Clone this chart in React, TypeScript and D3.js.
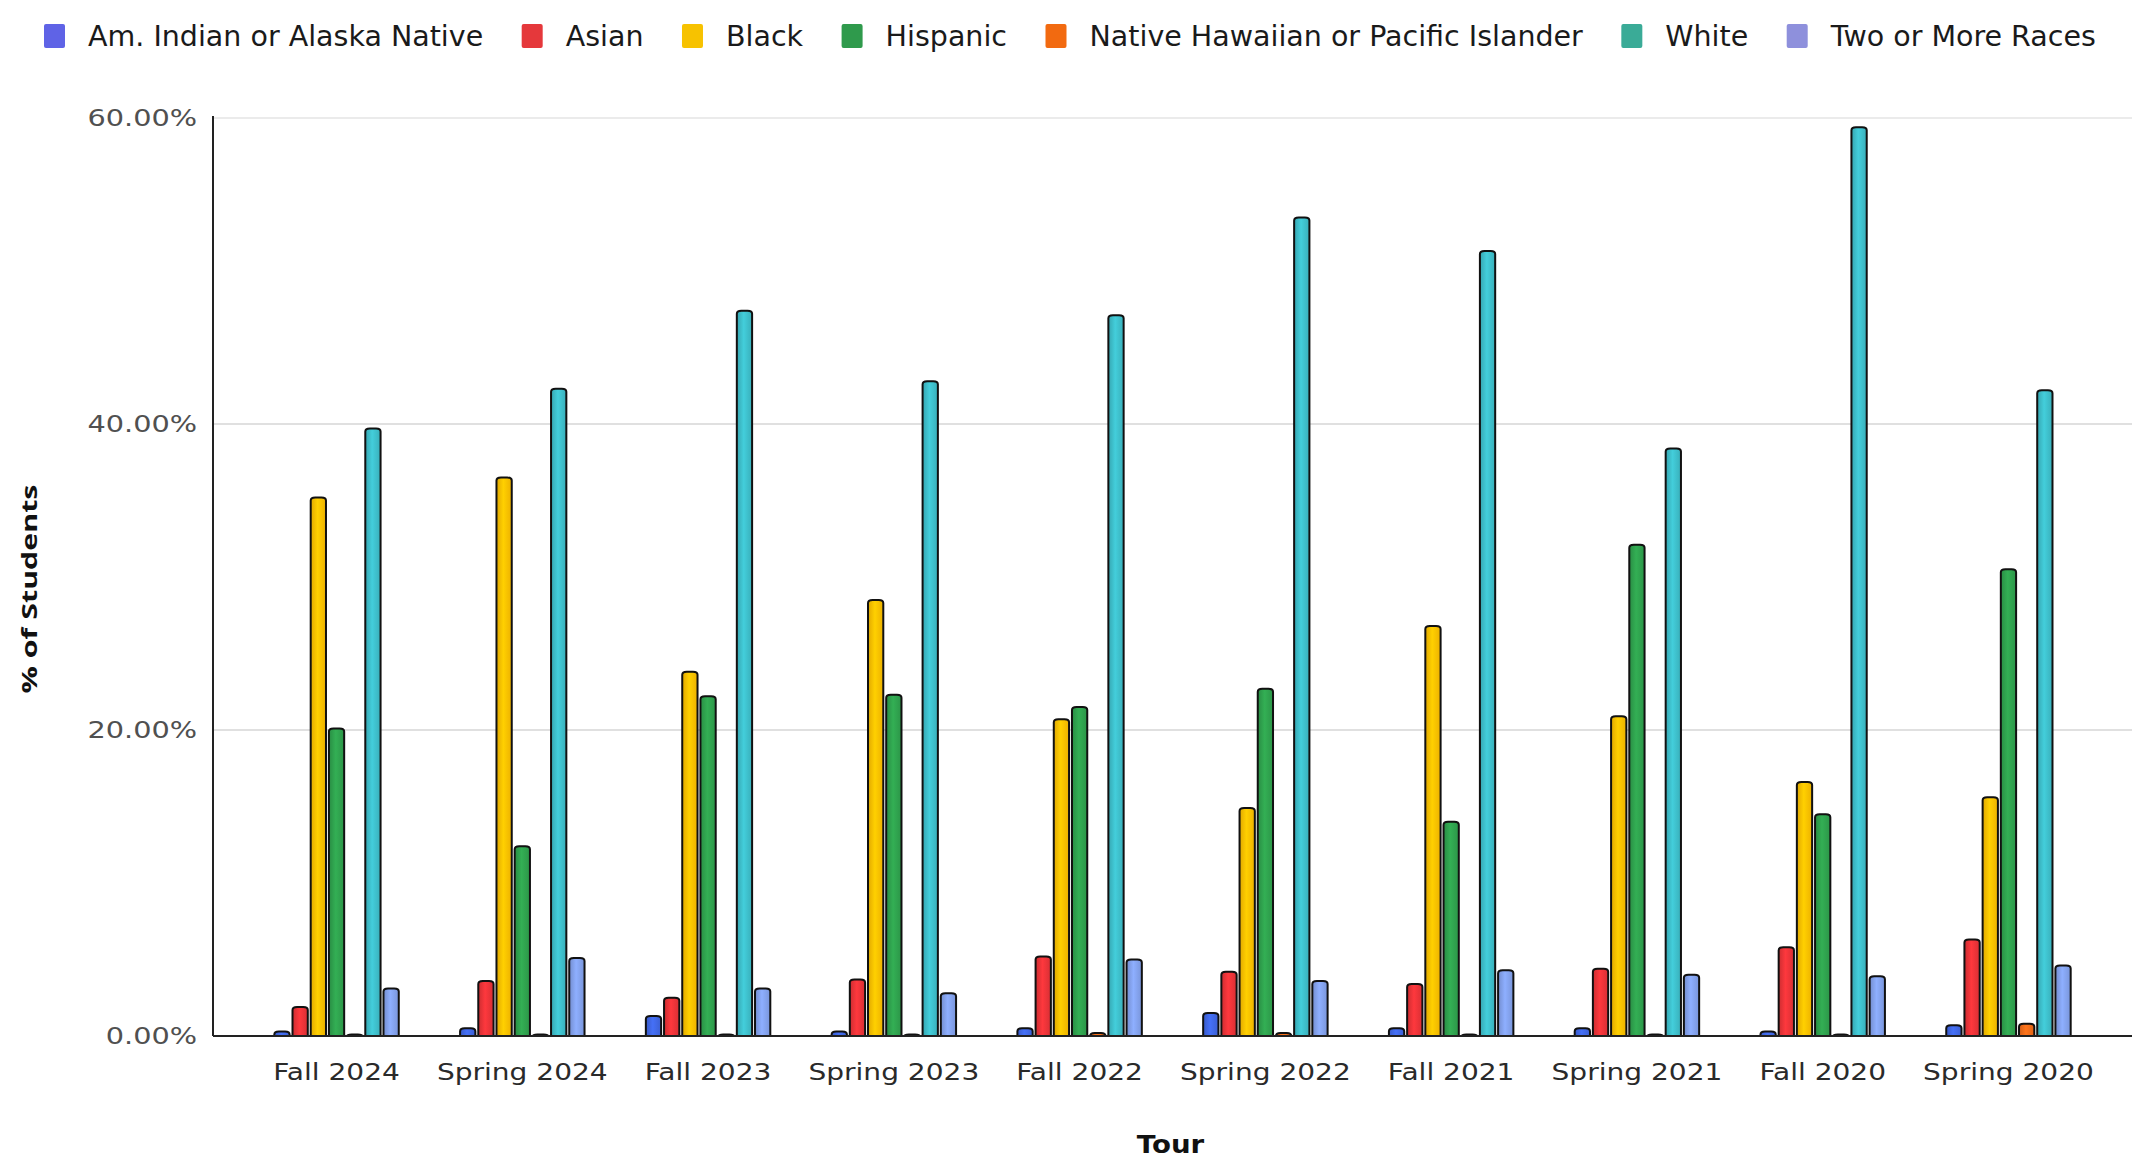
import React, { useEffect, useRef } from "react";
import * as d3 from "d3";

// Tours along the x axis, most recent first
const tours = [
  "Fall 2024",
  "Spring 2024",
  "Fall 2023",
  "Spring 2023",
  "Fall 2022",
  "Spring 2022",
  "Fall 2021",
  "Spring 2021",
  "Fall 2020",
  "Spring 2020",
];

// Share of students (%) per group, one value per tour
const amIndian = [0.3, 0.5, 1.3, 0.3, 0.5, 1.5, 0.5, 0.5, 0.3, 0.7];
const asian = [1.9, 3.6, 2.5, 3.7, 5.2, 4.2, 3.4, 4.4, 5.8, 6.3];
const black = [35.2, 36.5, 23.8, 28.5, 20.7, 14.9, 26.8, 20.9, 16.6, 15.6];
const hispanic = [20.1, 12.4, 22.2, 22.3, 21.5, 22.7, 14.0, 32.1, 14.5, 30.5];
const nativeHawaiian = [0.1, 0.1, 0.1, 0.1, 0.2, 0.2, 0.1, 0.1, 0.1, 0.8];
const white = [39.7, 42.3, 47.4, 42.8, 47.1, 53.5, 51.3, 38.4, 59.4, 42.2];
const twoOrMore = [3.1, 5.1, 3.1, 2.8, 5.0, 3.6, 4.3, 4.0, 3.9, 4.6];

const seriesNames = [
  "Am. Indian or Alaska Native",
  "Asian",
  "Black",
  "Hispanic",
  "Native Hawaiian or Pacific Islander",
  "White",
  "Two or More Races",
];
const seriesValues = [amIndian, asian, black, hispanic, nativeHawaiian, white, twoOrMore];
const legendColors = ["#5f63e6", "#e5383b", "#f7c200", "#2f9a4c", "#f26a10", "#3aab97", "#8e90dc"];
const barColors = ["#3f66e2", "#e83338", "#ffbe00", "#2fa04d", "#f06a18", "#3dbcc8", "#82a0ea"];

const yTicks = [0, 20, 40, 60];

const W = 2132;
const H = 1161;

export default function App() {
  const ref = useRef<SVGSVGElement | null>(null);

  useEffect(() => {
    const svg = d3.select(ref.current);
    svg.selectAll("*").remove();

    const left = 213;
    const right = W;
    const top = 118;
    const bottom = 1036;

    const x0 = d3.scaleBand<string>().domain(tours).range([left, right]).paddingInner(0).paddingOuter(0.165);
    const x1 = d3
      .scaleBand<string>()
      .domain(seriesNames)
      .range([0, x0.bandwidth()])
      .paddingInner(0.16)
      .paddingOuter(1.685);
    const y = d3.scaleLinear().domain([0, 60]).range([bottom, top]);

    const defs = svg.append("defs");
    barColors.forEach((c, i) => {
      const g = defs
        .append("linearGradient")
        .attr("id", `bar-grad-${i}`)
        .attr("x1", "0")
        .attr("x2", "1")
        .attr("y1", "0")
        .attr("y2", "0");
      const base = d3.color(c)!;
      g.append("stop").attr("offset", "0").attr("stop-color", base.darker(0.35).formatHex());
      g.append("stop").attr("offset", "0.45").attr("stop-color", base.brighter(0.25).formatHex());
      g.append("stop").attr("offset", "1").attr("stop-color", base.darker(0.2).formatHex());
    });

    // gridlines
    svg
      .append("g")
      .selectAll("line")
      .data(yTicks.filter((t) => t > 0))
      .join("line")
      .attr("x1", left)
      .attr("x2", right)
      .attr("y1", (d) => y(d))
      .attr("y2", (d) => y(d))
      .attr("stroke", (d) => (d === 60 ? "#e4e4e4" : "#d6d6d6"))
      .attr("stroke-width", 1.3);

    // y tick labels
    svg
      .append("g")
      .selectAll("text")
      .data(yTicks)
      .join("text")
      .attr("transform", (d) => `translate(197,${y(d)}) scale(1.25,1)`)
      .attr("text-anchor", "end")
      .attr("dominant-baseline", "central")
      .attr("font-family", "DejaVu Sans")
      .attr("font-size", 23)
      .attr("fill", "#505050")
      .text((d) => `${d.toFixed(2)}%`);

    // bars
    const groups = svg
      .append("g")
      .selectAll("g")
      .data(tours)
      .join("g")
      .attr("transform", (d) => `translate(${x0(d)},0)`);

    const barPath = (bx: number, by: number, bw: number, bh: number) => {
      const rx = Math.min(bw / 2, 4.5);
      const ry = Math.min(bh, 3);
      return `M${bx},${by + bh}V${by + ry}Q${bx},${by} ${bx + rx},${by}H${bx + bw - rx}Q${bx + bw},${by} ${bx + bw},${by + ry}V${by + bh}Z`;
    };

    groups
      .selectAll("path")
      .data((tour, ti) => seriesNames.map((s, si) => ({ s, si, v: seriesValues[si][ti] })))
      .join("path")
      .attr("d", (d) => {
        const bx = x1(d.s)!;
        const by = y(d.v);
        return barPath(bx, by, x1.bandwidth(), bottom - by);
      })
      .attr("fill", (d) => `url(#bar-grad-${d.si})`)
      .attr("stroke", "#111")
      .attr("stroke-width", 2);

    // axes lines
    svg
      .append("line")
      .attr("x1", left)
      .attr("x2", left)
      .attr("y1", top - 2)
      .attr("y2", bottom)
      .attr("stroke", "#222")
      .attr("stroke-width", 2);
    svg
      .append("line")
      .attr("x1", left)
      .attr("x2", right)
      .attr("y1", bottom)
      .attr("y2", bottom)
      .attr("stroke", "#222")
      .attr("stroke-width", 2);

    // x tick labels
    svg
      .append("g")
      .selectAll("text")
      .data(tours)
      .join("text")
      .attr("transform", (d) => `translate(${x0(d)! + x0.bandwidth() / 2},1080) scale(1.22,1)`)
      .attr("text-anchor", "middle")
      .attr("font-family", "DejaVu Sans")
      .attr("font-size", 23)
      .attr("fill", "#2a2a2a")
      .text((d) => d);

    // axis titles
    svg
      .append("text")
      .attr("transform", `translate(${left + (right - left) / 2 - 2},1153) scale(1.15,1)`)
      .attr("text-anchor", "middle")
      .attr("font-family", "DejaVu Sans")
      .attr("font-weight", "bold")
      .attr("font-size", 24)
      .attr("fill", "#111")
      .text("Tour");

    svg
      .append("text")
      .attr("transform", `translate(37,589) rotate(-90) scale(1.38,1)`)
      .attr("text-anchor", "middle")
      .attr("font-family", "Open Sans")
      .attr("font-weight", "bold")
      .attr("font-size", 22)
      .attr("fill", "#111")
      .text("% of Students");

    // legend, laid out left to right
    const legend = svg.append("g");
    let lx = 44;
    seriesNames.forEach((name, i) => {
      legend
        .append("rect")
        .attr("x", lx)
        .attr("y", 24)
        .attr("width", 21)
        .attr("height", 24)
        .attr("rx", 2)
        .attr("fill", legendColors[i]);
      const t = legend
        .append("text")
        .attr("x", lx + 44)
        .attr("y", 36)
        .attr("dominant-baseline", "central")
        .attr("font-family", "DejaVu Sans")
        .attr("font-size", 28.5)
        .attr("fill", "#1a1a1a")
        .text(name);
      const tw = (t.node() as SVGTextElement).getComputedTextLength();
      lx = lx + 44 + tw + 38.5;
    });
  }, []);

  return (
    <svg
      ref={ref}
      width={W}
      height={H}
      style={{ position: "absolute", left: 0, top: 0, background: "#fff" }}
    />
  );
}
